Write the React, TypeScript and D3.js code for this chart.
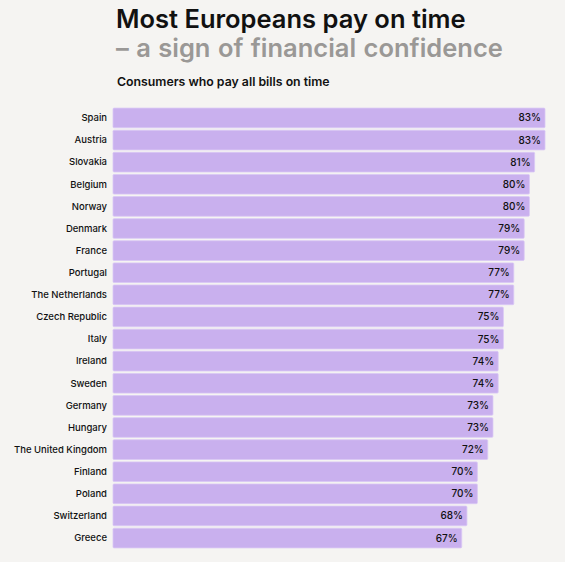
import * as d3 from 'd3'
import { useEffect, useRef } from 'react'

const countries = [
  'Spain', 'Austria', 'Slovakia', 'Belgium', 'Norway', 'Denmark', 'France',
  'Portugal', 'The Netherlands', 'Czech Republic', 'Italy', 'Ireland', 'Sweden',
  'Germany', 'Hungary', 'The United Kingdom', 'Finland', 'Poland', 'Switzerland', 'Greece',
]
const shares = [83, 83, 81, 80, 80, 79, 79, 77, 77, 75, 75, 74, 74, 73, 73, 72, 70, 70, 68, 67]

const title = 'Most Europeans pay on time'
const titleGrey = '– a sign of financial confidence'
const subtitle = 'Consumers who pay all bills on time'

const W = 565
const H = 562
const font = 'Inter, "Noto Sans", sans-serif'

const App = () => {
  const ref = useRef<SVGSVGElement>(null)

  useEffect(() => {
    const svg = d3.select(ref.current)
    svg.selectAll('*').remove()

    svg.append('rect').attr('width', W).attr('height', H).attr('fill', '#f5f4f2')

    svg.append('text')
      .attr('x', 116).attr('y', 28)
      .attr('font-family', font).attr('font-size', 25.5).attr('font-weight', 600)
      .attr('fill', '#111')
      .text(title)

    svg.append('text')
      .attr('x', 116).attr('y', 57)
      .attr('font-family', font).attr('font-size', 25.5).attr('font-weight', 600)
      .attr('fill', '#9a9896')
      .attr('word-spacing', 1)
      .text(titleGrey)

    svg.append('text')
      .attr('x', 117).attr('y', 86)
      .attr('font-family', font).attr('font-size', 12.3).attr('font-weight', 600)
      .attr('fill', '#111')
      .text(subtitle)

    const x = d3.scaleLinear().domain([0, 100]).range([113, 633.5])
    const y = d3.scaleBand<string>().domain(countries).range([107, 549]).paddingInner(0.11).paddingOuter(0.05)

    const rows = svg.append('g')
      .selectAll('g')
      .data(countries)
      .join('g')

    rows.append('rect')
      .attr('x', x(0))
      .attr('y', (d) => y(d) ?? 0)
      .attr('width', (_d, i) => x(shares[i]) - x(0))
      .attr('height', y.bandwidth())
      .attr('rx', 1)
      .attr('fill', '#c9b0ee')
      .attr('stroke', '#d9c8f5')
      .attr('stroke-width', 0.8)

    rows.append('text')
      .attr('x', x(0) - 6)
      .attr('y', (d) => (y(d) ?? 0) + y.bandwidth() / 2)
      .attr('dy', '0.35em')
      .attr('text-anchor', 'end')
      .attr('font-family', font).attr('font-size', 9.5).attr('font-weight', 500)
      .attr('fill', '#111')
      .text((d) => d)

    rows.append('text')
      .attr('x', (_d, i) => x(shares[i]) - 4)
      .attr('y', (d) => (y(d) ?? 0) + y.bandwidth() / 2)
      .attr('dy', '0.35em')
      .attr('text-anchor', 'end')
      .attr('font-family', font).attr('font-size', 10).attr('font-weight', 500)
      .attr('fill', '#111')
      .text((_d, i) => shares[i] + '%')
  }, [])

  return (
    <svg
      ref={ref}
      width={W}
      height={H}
      style={{ position: 'absolute', left: 0, top: 0, display: 'block' }}
    />
  )
}

export default App
